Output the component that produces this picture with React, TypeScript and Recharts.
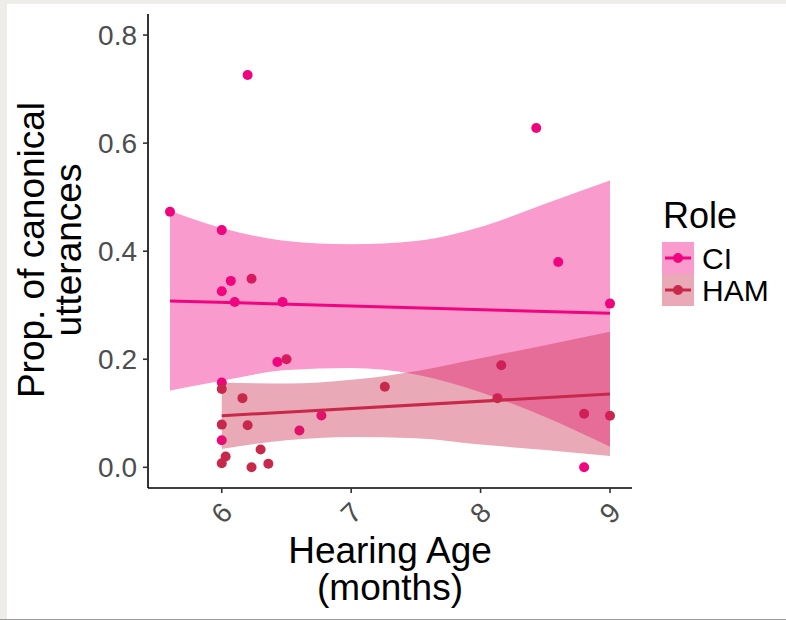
import { ComposedChart, Area, Line, Scatter, XAxis, YAxis, Label } from 'recharts';

// points
const ciX = [5.6, 6.0, 6.2, 8.43, 8.6, 6.07, 6.0, 6.1, 6.47, 9.0, 6.43, 6.0, 6.77, 6.6, 6.0, 8.8];
const ciY = [0.473, 0.439, 0.726, 0.628, 0.38, 0.345, 0.326, 0.306, 0.306, 0.303, 0.195, 0.157, 0.096, 0.068, 0.05, 0.0];
const hamX = [6.23, 6.5, 8.16, 7.26, 6.0, 6.16, 8.13, 8.8, 9.0, 6.0, 6.2, 6.3, 6.03, 6.0, 6.23, 6.36];
const hamY = [0.349, 0.2, 0.189, 0.149, 0.145, 0.128, 0.128, 0.099, 0.0955, 0.079, 0.078, 0.033, 0.02, 0.0074, 0.0, 0.0067];

// confidence bands (lm fit), read at a few x positions
const bandX = [5.6, 6.0, 6.5, 7.0, 7.5, 8.0, 8.5, 9.0];
const ciLower = [0.142, 0.16, 0.18, 0.184, 0.172, 0.139, 0.093, 0.038];
const ciUpper = [0.475, 0.443, 0.419, 0.413, 0.419, 0.445, 0.488, 0.531];
const hamLower = [null, 0.034, 0.05, 0.056, 0.054, 0.042, 0.032, 0.021];
const hamUpper = [null, 0.157, 0.155, 0.162, 0.178, 0.202, 0.226, 0.251];

// fitted lines
const ciFitX = [5.6, 9.0];
const ciFitY = [0.308, 0.285];
const hamFitX = [6.0, 9.0];
const hamFitY = [0.0955, 0.1356];

const xTicks = [6, 7, 8, 9];
const yTicks = [0, 0.2, 0.4, 0.6, 0.8];

const CI = '#f0047f';
const HAM = '#c8284a';
const FONT = '"Liberation Sans", Arial, Helvetica, sans-serif';

const bandRows = bandX.map((x, i) => ({
  x,
  ci: [ciLower[i], ciUpper[i]],
  ham: hamLower[i] == null ? null : [hamLower[i], hamUpper[i]],
}));
const ciPoints = ciX.map((x, i) => ({ x, y: ciY[i] }));
const hamPoints = hamX.map((x, i) => ({ x, y: hamY[i] }));
const ciFit = ciFitX.map((x, i) => ({ x, y: ciFitY[i] }));
const hamFit = hamFitX.map((x, i) => ({ x, y: hamFitY[i] }));

const dotShape = (color: string) => (p: any) => <circle cx={p.cx} cy={p.cy} r={5} fill={color} />;

const XTick = (props: any) => {
  const { x, y, payload } = props;
  const cy = y + 18;
  return (
    <text
      x={x}
      y={cy}
      textAnchor="middle"
      dominantBaseline="central"
      fontSize={28}
      fill="#4d4d4d"
      transform={`rotate(-45 ${x} ${cy})`}
    >
      {payload.value}
    </text>
  );
};

const XTitle = (props: any) => {
  const { x, width } = props.viewBox;
  const cx = x + width / 2;
  return (
    <text textAnchor="middle" fontSize={37} fill="#000">
      <tspan x={cx} y={563}>Hearing Age</tspan>
      <tspan x={cx} y={600}>(months)</tspan>
    </text>
  );
};

const YTitle = () => (
  <g fontSize={37} fill="#000" textAnchor="middle">
    <text transform="translate(44,250) rotate(-90)">Prop. of canonical</text>
    <text transform="translate(81,250) rotate(-90)">utterances</text>
  </g>
);

function RoleLegend() {
  const rows = [
    { name: 'CI', color: CI, y: 242 },
    { name: 'HAM', color: HAM, y: 274 },
  ];
  return (
    <svg width={140} height={130} style={{ position: 'absolute', left: 650, top: 190 }}>
      <text x={13} y={38} fontSize={36} fill="#000">Role</text>
      {rows.map((r) => (
        <g key={r.name}>
          <rect x={12} y={r.y - 190} width={32} height={32} fill={r.color} fillOpacity={0.4} />
          <line x1={15} x2={41} y1={r.y - 190 + 16} y2={r.y - 190 + 16} stroke={r.color} strokeWidth={3} />
          <circle cx={28} cy={r.y - 190 + 16} r={5} fill={r.color} />
          <text x={52} y={r.y - 190 + 16} dominantBaseline="central" fontSize={30} fill="#000">
            {r.name}
          </text>
        </g>
      ))}
    </svg>
  );
}

export default function App() {
  return (
    <div
      style={{
        position: 'absolute',
        left: 0,
        top: 0,
        width: 786,
        height: 620,
        background: '#fff',
        fontFamily: FONT,
        overflow: 'hidden',
      }}
    >
      <div style={{ position: 'absolute', left: 0, top: 0, width: 7, height: 620, background: '#eeede9' }} />
      <div style={{ position: 'absolute', left: 0, top: 0, width: 786, height: 4, background: '#eeede9' }} />
      <div style={{ position: 'absolute', left: 0, top: 619, width: 786, height: 1, background: '#999' }} />
      <ComposedChart
        width={786}
        height={620}
        data={bandRows}
        margin={{ top: 14, right: 154, bottom: 82, left: 0 }}
        style={{ position: 'absolute', left: 0, top: 0 }}
      >
        <XAxis
          dataKey="x"
          type="number"
          domain={[5.43, 9.17]}
          ticks={xTicks}
          allowDataOverflow
          height={50}
          tickSize={5}
          axisLine={{ stroke: '#000', strokeWidth: 1.6 }}
          tickLine={{ stroke: '#333', strokeWidth: 1.6 }}
          tick={<XTick />}
          interval={0}
        >
          <Label content={<XTitle />} />
        </XAxis>
        <YAxis
          type="number"
          domain={[-0.0383, 0.839]}
          ticks={yTicks}
          allowDataOverflow
          width={148}
          tickSize={5}
          tickMargin={6}
          interval={0}
          axisLine={{ stroke: '#000', strokeWidth: 1.6 }}
          tickLine={{ stroke: '#333', strokeWidth: 1.6 }}
          tick={{ fontSize: 28, fill: '#4d4d4d' }}
          tickFormatter={(v: number) => v.toFixed(1)}
        >
          <Label content={<YTitle />} />
        </YAxis>
        <Scatter data={ciPoints} dataKey="y" fill={CI} shape={dotShape(CI)} isAnimationActive={false} zIndex={50} />
        <Scatter data={hamPoints} dataKey="y" fill={HAM} shape={dotShape(HAM)} isAnimationActive={false} zIndex={50} />
        <Area
          dataKey="ci"
          type="monotone"
          fill={CI}
          fillOpacity={0.4}
          stroke="none"
          isAnimationActive={false}
          activeDot={false}
          dot={false}
          zIndex={100}
        />
        <Line
          data={ciFit}
          dataKey="y"
          stroke={CI}
          strokeWidth={3}
          dot={false}
          activeDot={false}
          isAnimationActive={false}
          zIndex={400}
        />
        <Area
          dataKey="ham"
          type="monotone"
          fill={HAM}
          fillOpacity={0.4}
          stroke="none"
          isAnimationActive={false}
          activeDot={false}
          dot={false}
          zIndex={100}
        />
        <Line
          data={hamFit}
          dataKey="y"
          stroke={HAM}
          strokeWidth={3}
          dot={false}
          activeDot={false}
          isAnimationActive={false}
          zIndex={400}
        />
      </ComposedChart>
      <RoleLegend />
    </div>
  );
}
